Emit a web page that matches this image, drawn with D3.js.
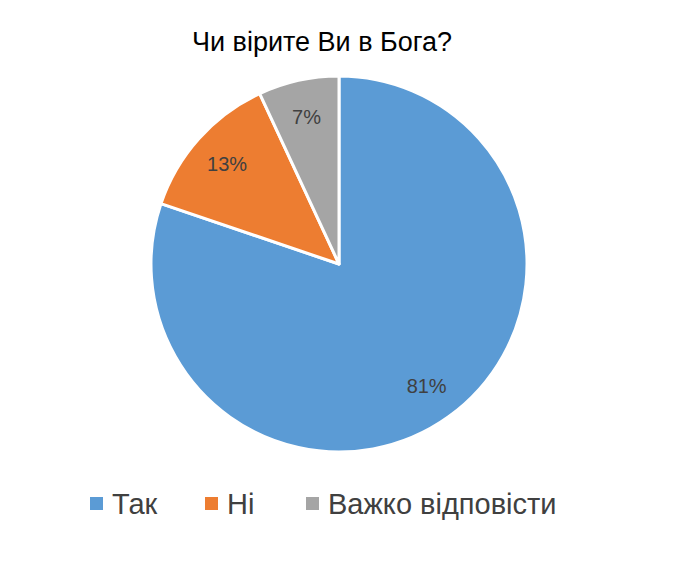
<!DOCTYPE html>
<html><head><meta charset="utf-8">
<script src="https://cdn.jsdelivr.net/npm/d3@7"></script>
<style>body{margin:0;background:#fff}</style></head>
<body><svg id="c" width="688" height="579"></svg>
<script>
const categories = ["Так", "Ні", "Важко відповісти"];
const values = [81, 13, 7];
const labels = ["81%", "13%", "7%"];
const colors = ["#5B9BD5", "#ED7D31", "#A5A5A5"];

const svg = d3.select("#c");
const font = "Liberation Sans, Arial, sans-serif";
svg.append("text").attr("x", 322).attr("y", 51).attr("text-anchor", "middle")
  .attr("font-family", font).attr("font-size", 27).attr("fill", "#000").text("Чи вірите Ви в Бога?");

const cx = 339, cy = 264, r = 188;
const pie = d3.pie().sort(null).value(d => d)(values);
const arc = d3.arc().innerRadius(0).outerRadius(r);
const lab = d3.arc().innerRadius(r * 0.8).outerRadius(r * 0.8);
const g = svg.append("g").attr("transform", `translate(${cx},${cy})`);
g.selectAll("path").data(pie).join("path").attr("d", arc)
  .attr("fill", (d, i) => colors[i]).attr("stroke", "#fff").attr("stroke-width", 3).attr("stroke-linejoin", "round");
g.selectAll("text").data(pie).join("text")
  .attr("transform", d => `translate(${lab.centroid(d)})`)
  .attr("text-anchor", "middle").attr("dy", "0.35em")
  .attr("font-family", font).attr("font-size", 20).attr("fill", "#404040")
  .text((d, i) => labels[i]);

const lx = [90, 205, 306];
const lg = svg.append("g");
categories.forEach((c, i) => {
  lg.append("rect").attr("x", lx[i]).attr("y", 497).attr("width", 13).attr("height", 13).attr("fill", colors[i]);
  lg.append("text").attr("x", lx[i] + 22).attr("y", 514).attr("font-family", font)
    .attr("font-size", 29).attr("fill", "#404040").text(c);
});
</script></body></html>
